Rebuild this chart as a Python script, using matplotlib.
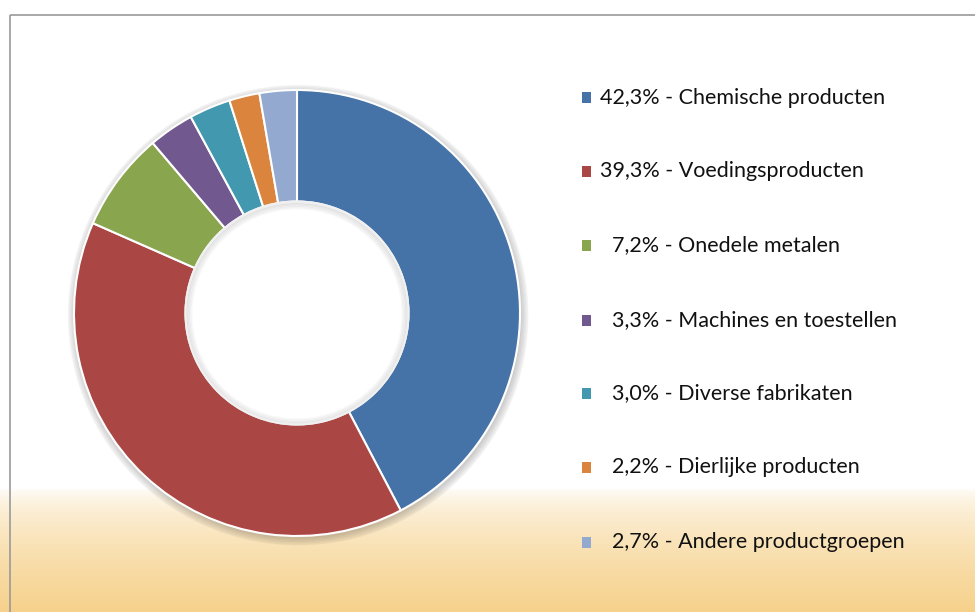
import numpy as np
import matplotlib
matplotlib.use('Agg')
import matplotlib.pyplot as plt
from matplotlib.patches import Rectangle, Circle
from matplotlib.colors import to_rgb

# Data
labels = ['Chemische producten', 'Voedingsproducten', 'Onedele metalen',
          'Machines en toestellen', 'Diverse fabrikaten', 'Dierlijke producten',
          'Andere productgroepen']
shares = [42.3, 39.3, 7.2, 3.3, 3.0, 2.2, 2.7]
colors = ['#4572a7', '#aa4643', '#89a54e', '#71588f', '#4198af', '#db843d', '#93a9cf']

W, H = 975, 612
fig = plt.figure(figsize=(W / 100, H / 100), dpi=100)

# background with warm gradient at the bottom
bg = fig.add_axes([0, 0, 1, 1], zorder=0)
bg.set_xlim(0, W)
bg.set_ylim(H, 0)
bg.axis('off')
top_c = np.array(to_rgb('#ffffff'))
bot_c = np.array(to_rgb('#f6d18b'))
rows = np.arange(H)
t = np.clip((rows - 488) / (H - 488), 0, 1) ** 0.6
grad = top_c[None, :] * (1 - t[:, None]) + bot_c[None, :] * t[:, None]
img = np.repeat(grad[:, None, :], 4, axis=1)
bg.imshow(img, extent=[0, W, H, 0], aspect='auto', interpolation='bilinear')
bg.add_patch(Rectangle((10, 15), W + 20, H + 20, fill=False, edgecolor='#9a9a9a', linewidth=1.2))

# donut
cx, cy, r = 297, 313, 223
ax = fig.add_axes([(cx - r * 1.05) / W, (H - cy - r * 1.05) / H, 2 * r * 1.05 / W, 2 * r * 1.05 / H], zorder=1)
ax.axis('off')

# soft shadow around outer edge
for i in range(6):
    ax.add_patch(Circle((0.005, -0.01), 1.0 + 0.006 * i, color='#000000', alpha=0.03, zorder=0))

ax.pie(shares, colors=colors, startangle=90, counterclock=False, radius=1.0,
       wedgeprops=dict(width=0.5, edgecolor='white', linewidth=1.5))

# faint inner shadow of the hole
ax.add_patch(Circle((0, 0), 0.5, facecolor='white', edgecolor='none', zorder=3))
for i in range(5):
    ax.add_patch(Circle((0, -0.004), 0.497 - 0.006 * i, fill=False, edgecolor='#000000',
                        linewidth=1.6, alpha=0.07 - 0.012 * i, zorder=3.5))
ax.add_patch(Circle((0, 0), 0.5, fill=False, edgecolor='#f0f0f0', linewidth=1.5, zorder=4))
ax.set_xlim(-1.05, 1.05)
ax.set_ylim(-1.05, 1.05)

# legend
ys = [97.5, 171, 245, 320, 393, 467, 542]
for lab, val, col, y in zip(labels, shares, colors, ys):
    bg.add_patch(Rectangle((582, y - 5.5), 9, 11, facecolor=col, edgecolor='none'))
    pct = f'{val:.1f}'.replace('.', ',') + '%'
    x0 = 600 if val >= 10 else 612
    bg.text(x0, y, f'{pct} - {lab}', fontsize=15.5, family='Lato', color='#111111',
            va='center', ha='left')

fig.savefig('out.png', dpi=100)
